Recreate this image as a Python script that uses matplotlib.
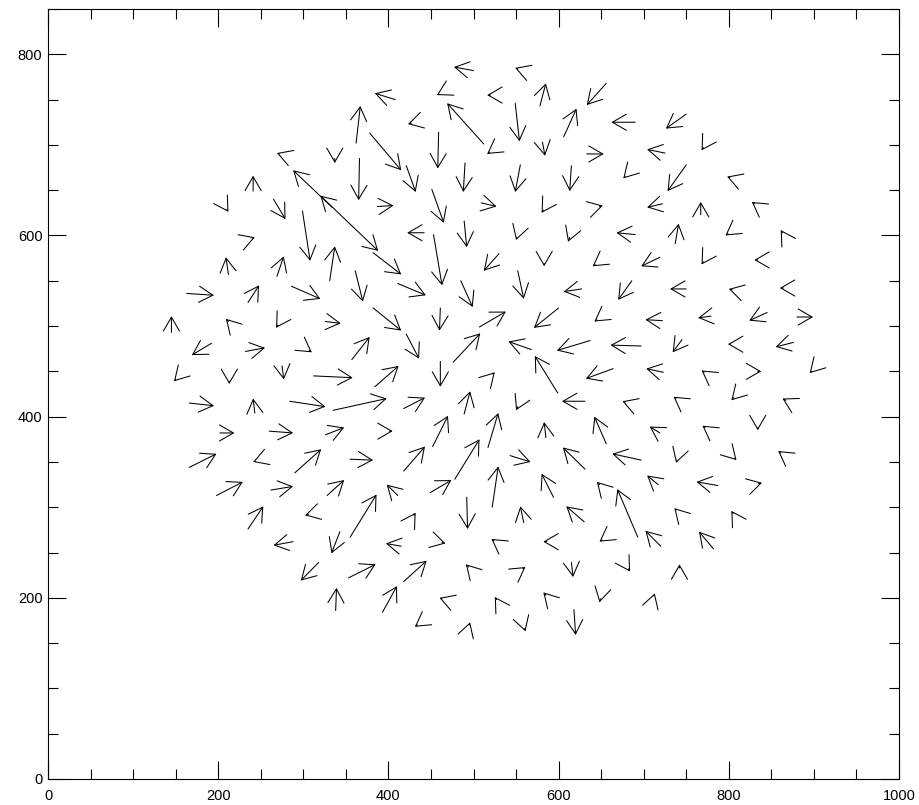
import matplotlib
matplotlib.use('Agg')
import matplotlib.pyplot as plt
from matplotlib.ticker import MultipleLocator

plt.rcParams['font.family'] = ['Liberation Sans', 'DejaVu Sans']

# velocity arrows: tail (tail_x, tail_y) -> head (head_x, head_y), data units
tail_x = [408, 362, 378, 366, 272, 337, 241, 334, 350, 350, 382, 265, 210, 240, 299, 331, 387, 212, 269,
          500, 552, 459, 520, 578, 656, 512, 427, 549, 606, 690, 459, 519, 581, 633, 725, 678, 421, 490, 555,
          615, 451, 509, 582, 648, 722, 442, 489, 551, 613, 690, 453, 530, 583, 643, 719,
          750, 770, 750, 801, 767, 830, 737, 799, 863, 770, 834,
          163, 235, 286, 361, 382, 145, 212, 270, 326, 192, 232, 307, 357, 150, 213, 275, 312, 384,
          166, 243, 284, 335, 202, 260, 326, 401, 166, 244, 290, 355, 198, 262, 328, 411, 355, 235,
          411, 485, 552, 627, 686, 461, 507, 600, 645, 722, 421, 476, 568, 637, 697, 599, 461, 523,
          664, 723, 418, 489, 552, 631, 678, 418, 452, 517, 585, 656, 719, 478, 543, 631, 697, 449,
          522, 594, 648, 693, 717, 492, 559, 630,
          750, 804, 864, 779, 845, 880, 745, 802, 876, 771, 834, 897, 738, 806, 867, 772, 834, 739,
          807, 861, 787, 835,
          306, 288, 343, 415, 318, 353, 338, 393,
          430, 463, 524, 586, 651, 720, 418, 494, 558, 615, 682, 463, 527, 585, 649, 712, 434, 495,
          560, 618,
          738, 805, 782, 742]
tail_y = [750, 702, 713, 685, 690, 685, 649, 631, 617, 617, 581, 640, 629, 597, 627, 550, 632, 557, 555,
          782, 784, 756, 755, 743, 768, 701, 724, 746, 709, 725, 714, 692, 703, 690, 691, 665, 677, 680, 678,
          677, 651, 636, 628, 632, 635, 603, 616, 598, 598, 601, 601, 580, 569, 568, 576,
          734, 697, 678, 664, 623, 635, 591, 602, 603, 571, 573,
          536, 526, 544, 561, 520, 493, 505, 501, 505, 481, 472, 473, 463, 441, 439, 456, 445, 433,
          415, 404, 417, 407, 382, 384, 380, 384, 344, 351, 338, 353, 313, 319, 313, 313, 267, 276,
          547, 550, 561, 541, 550, 520, 499, 520, 507, 506, 491, 460, 474, 484, 478, 426, 461, 447,
          453, 449, 409, 403, 411, 417, 416, 340, 367, 366, 377, 370, 382, 331, 357, 342, 352, 316,
          300, 311, 325, 267, 325, 311, 283, 284,
          541, 540, 542, 511, 515, 510, 485, 480, 482, 449, 450, 450, 420, 421, 418, 388, 388, 352,
          354, 360, 324, 326,
          292, 262, 273, 257, 239, 222, 186, 184,
          291, 261, 263, 262, 264, 257, 218, 234, 232, 239, 232, 199, 198, 203, 199, 202, 170, 170,
          166, 187,
          297, 293, 254, 233]
head_x = [384, 367, 415, 365, 269, 337, 241, 288, 320, 388, 415, 279, 212, 243, 308, 337, 406, 209, 277,
          477, 549, 457, 516, 585, 633, 469, 423, 554, 621, 662, 458, 516, 584, 653, 704, 676, 432, 488, 549,
          613, 465, 527, 580, 652, 704, 422, 492, 550, 611, 668, 463, 512, 583, 640, 697,
          726, 768, 728, 798, 767, 827, 741, 796, 861, 768, 830,
          195, 248, 320, 370, 415, 145, 209, 268, 344, 169, 255, 310, 378, 148, 213, 277, 358, 412,
          195, 241, 326, 398, 219, 288, 348, 405, 198, 241, 321, 382, 229, 288, 348, 398, 386, 253,
          444, 499, 559, 606, 670, 460, 538, 571, 642, 702, 436, 508, 541, 598, 661, 572, 461, 525,
          632, 703, 443, 496, 550, 604, 675, 443, 470, 529, 583, 642, 707, 507, 567, 605, 663, 474,
          529, 580, 645, 669, 704, 493, 555, 609,
          731, 800, 860, 764, 824, 899, 734, 799, 855, 768, 838, 895, 735, 803, 863, 769, 834, 738,
          809, 858, 762, 839,
          302, 265, 333, 397, 297, 385, 339, 410,
          432, 467, 521, 582, 648, 702, 445, 491, 561, 617, 684, 460, 525, 582, 648, 713, 431, 496,
          561, 620,
          736, 803, 765, 742]
head_y = [757, 743, 672, 639, 691, 680, 666, 672, 644, 583, 557, 618, 626, 598, 572, 588, 633, 576, 577,
          786, 785, 755, 755, 768, 744, 746, 723, 704, 740, 725, 674, 690, 688, 690, 695, 663, 648, 648, 648,
          649, 614, 632, 625, 633, 631, 603, 587, 595, 593, 603, 545, 561, 566, 566, 566,
          718, 694, 649, 665, 637, 637, 613, 600, 606, 568, 573,
          534, 545, 530, 527, 495, 511, 508, 498, 503, 468, 476, 471, 488, 439, 436, 441, 443, 456,
          412, 420, 411, 420, 382, 382, 388, 384, 359, 350, 364, 352, 328, 323, 330, 325, 314, 301,
          534, 521, 530, 538, 529, 495, 516, 498, 505, 507, 464, 492, 483, 473, 479, 467, 433, 449,
          442, 453, 421, 428, 407, 417, 417, 367, 401, 404, 394, 400, 389, 375, 350, 366, 359, 330,
          345, 337, 328, 320, 335, 276, 301, 301,
          541, 541, 542, 509, 506, 510, 471, 480, 477, 451, 450, 448, 422, 418, 420, 390, 385, 349,
          352, 362, 328, 327,
          291, 258, 249, 260, 219, 237, 211, 213,
          294, 260, 265, 262, 262, 274, 241, 237, 234, 223, 229, 200, 201, 206, 195, 205, 168, 173,
          163, 159,
          299, 296, 273, 237]

fig = plt.figure(figsize=(9.2, 8.05), dpi=100)
ax = fig.add_axes([0.0522, 0.0323, 0.925, 0.9565])

for xa, ya, xb, yb in zip(tail_x, tail_y, head_x, head_y):
    ax.annotate('', xy=(xb, yb), xytext=(xa, ya),
                arrowprops=dict(arrowstyle='->,head_length=1.0,head_width=0.58',
                                shrinkA=0, shrinkB=0, lw=0.75, color='black'))

ax.set_xlim(0, 1000)
ax.set_ylim(0, 850)
ax.xaxis.set_major_locator(MultipleLocator(200))
ax.xaxis.set_minor_locator(MultipleLocator(50))
ax.yaxis.set_major_locator(MultipleLocator(200))
ax.yaxis.set_minor_locator(MultipleLocator(50))
ax.tick_params(which='both', direction='in', top=True, right=True, width=0.8,
               labelsize=10.5)
ax.tick_params(which='major', length=13)
ax.tick_params(which='minor', length=7)
ax.tick_params(axis='x', pad=7)
ax.tick_params(axis='y', pad=4)
for s in ax.spines.values():
    s.set_linewidth(0.8)

fig.savefig('out.png', dpi=100)
